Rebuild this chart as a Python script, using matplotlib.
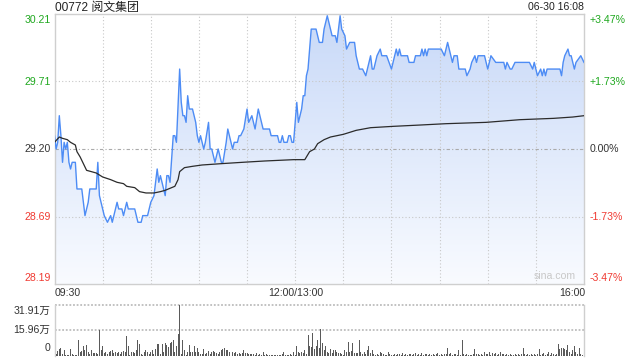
import matplotlib
matplotlib.use('Agg')
import matplotlib.pyplot as plt
import numpy as np
from matplotlib.colors import LinearSegmentedColormap

# ---------------- data ----------------
title = '00772 阅文集团'
stamp = '06-30 16:08'
watermark = 'sina.com'
prev_close = 29.20
price_labels = ['30.21', '29.71', '29.20', '28.69', '28.19']
price_levels = [30.21, 29.71, 29.20, 28.69, 28.19]
pct_labels = ['+3.47%', '+1.73%', '0.00%', '-1.73%', '-3.47%']
time_labels = ['09:30', '12:00/13:00', '16:00']
vol_labels = ['31.91万', '15.96万', '0']
vol_levels = [31.91, 15.96, 0]

# minute index (0 = 09:30, 150 = 12:00/13:00, 330 = 16:00)
price_min = [0, 1, 2, 3, 4, 5, 6, 7, 8, 9, 10, 11, 13, 14, 17, 19, 21, 22, 26, 27,
             28, 29, 30, 31, 33, 35, 36, 38, 39, 40, 42, 43, 45, 46, 50, 52, 54, 55, 58, 60,
             62, 63, 64, 65, 66, 67, 69, 70, 71, 72, 74, 75, 76, 78, 79, 80, 81, 82, 83, 84,
             86, 87, 88, 89, 90, 91, 92, 93, 94, 96, 97, 98, 100, 102, 104, 105, 107, 108, 109, 111,
             112, 114, 115, 116, 118, 120, 121, 123, 125, 127, 129, 130, 134, 135, 139, 140, 141, 142, 143, 145,
             146, 147, 148, 149,
             150, 151, 152, 154, 155, 156, 157, 158, 159, 160, 163, 165, 167, 168, 170, 172, 173, 175, 176, 177,
             178, 179, 181, 182, 184, 187, 188, 189, 190, 192, 194, 195, 197, 198, 199, 201, 203, 204, 207, 210,
             213, 214, 215, 216, 220, 221, 224, 225, 228, 229, 230, 231, 232, 233, 241, 243, 244, 245, 248, 249,
             251, 252, 256, 257, 259, 260, 262, 263, 264, 268, 269, 270, 272, 275, 280, 281, 282, 284, 285, 287,
             296, 298, 299, 300, 301, 303, 304, 305, 306, 307, 315, 316, 317, 318, 320, 321, 322, 324, 325, 328,
             330]
price_val = [29.30, 29.20, 29.25, 29.45, 29.30, 29.10, 29.25, 29.20, 29.25, 29.10, 29.05, 29.10, 29.10, 28.90, 28.90, 28.70, 28.80, 28.90, 28.90, 29.10,
             28.85, 28.80, 28.75, 28.70, 28.65, 28.70, 28.65, 28.75, 28.80, 28.75, 28.75, 28.70, 28.80, 28.75, 28.75, 28.65, 28.65, 28.70, 28.70, 28.80,
             28.85, 28.95, 29.05, 28.95, 29.00, 28.95, 28.85, 29.00, 29.00, 28.95, 29.30, 29.30, 29.25, 29.80, 29.55, 29.45, 29.45, 29.40, 29.60, 29.50,
             29.50, 29.45, 29.40, 29.30, 29.25, 29.30, 29.25, 29.20, 29.25, 29.40, 29.20, 29.20, 29.10, 29.20, 29.10, 29.10, 29.25, 29.35, 29.30, 29.20,
             29.25, 29.25, 29.30, 29.30, 29.35, 29.50, 29.40, 29.45, 29.35, 29.50, 29.40, 29.35, 29.35, 29.30, 29.30, 29.25, 29.25, 29.30, 29.25, 29.25,
             29.30, 29.30, 29.25, 29.25,
             29.40, 29.55, 29.40, 29.50, 29.60, 29.60, 29.75, 29.80, 29.95, 30.10, 30.10, 30.00, 30.00, 30.10, 30.20, 30.10, 30.05, 30.05, 30.00, 30.10,
             30.20, 30.10, 30.05, 29.95, 30.00, 30.00, 29.90, 29.85, 29.80, 29.80, 29.75, 29.80, 29.90, 29.80, 29.80, 29.90, 29.95, 29.90, 29.90, 29.80,
             29.95, 29.90, 29.95, 29.90, 29.90, 29.85, 29.85, 29.90, 29.90, 29.95, 29.90, 29.95, 29.90, 29.95, 29.95, 29.90, 29.95, 30.00, 29.85, 29.90,
             29.90, 29.80, 29.80, 29.75, 29.80, 29.85, 29.90, 29.85, 29.90, 29.90, 29.85, 29.80, 29.90, 29.85, 29.85, 29.80, 29.85, 29.80, 29.80, 29.85,
             29.85, 29.80, 29.85, 29.80, 29.75, 29.80, 29.75, 29.80, 29.75, 29.80, 29.80, 29.75, 29.85, 29.90, 29.95, 29.90, 29.90, 29.80, 29.85, 29.90,
             29.85]

avg_min = [0, 3, 5, 8, 10, 13, 14, 16, 18, 20, 23, 26, 30, 35, 39, 43, 45, 50, 53, 57,
           62, 66, 69, 75, 77, 78, 81, 86, 92, 104, 117, 131, 149, 156, 159, 162, 164, 168, 172, 180,
           188, 197, 211, 228, 244, 269, 290, 311, 323, 330]
avg_val = [29.25, 29.29, 29.28, 29.27, 29.25, 29.23, 29.18, 29.14, 29.09, 29.04, 29.03, 29.02, 28.99, 28.97, 28.95, 28.94, 28.92, 28.91, 28.88, 28.87,
           28.87, 28.88, 28.89, 28.92, 28.97, 29.03, 29.06, 29.07, 29.08, 29.09, 29.10, 29.11, 29.12, 29.12, 29.18, 29.20, 29.24, 29.27, 29.29, 29.31,
           29.34, 29.36, 29.37, 29.38, 29.39, 29.40, 29.42, 29.43, 29.44, 29.45]

# volume per minute (万股), minute 0..330
volume = [
    6.4, 1.2, 2.8, 4.3, 4.9, 1.0, 3.2, 0.6, 0.5, 0.4, 3.8, 1.0, 0.4, 0.6, 0.5, 9.6, 2.0, 2.8, 5.7, 3.2,
    6.4, 2.0, 0.8, 3.2, 1.5, 1.5, 1.5, 1.0, 16.4, 3.6, 5.7, 1.5, 2.5, 0.8, 2.5, 2.8, 3.2, 1.6, 2.0, 1.5,
    2.0, 0.8, 2.0, 2.8, 2.5, 12.1, 5.7, 0.6, 2.5, 2.0, 1.6, 3.2, 9.6, 7.4, 1.0, 0.5, 2.0, 3.6, 2.0, 0.8,
    2.5, 3.2, 1.0, 4.3, 7.0, 7.4, 1.0, 7.4, 2.0, 8.1, 6.4, 5.3, 7.9, 8.5, 9.6, 2.0, 5.7, 13.8, 31.91, 0.8,
    10.0, 3.2, 0.6, 2.5, 6.4, 2.0, 2.0, 5.7, 2.0, 4.9, 2.0, 1.0, 0.8, 4.3, 1.0, 1.5, 2.8, 0.8, 2.0, 2.8,
    2.0, 1.5, 0.8, 2.0, 3.2, 4.3, 4.9, 3.6, 3.2, 2.5, 1.0, 2.5, 1.5, 2.1, 1.2, 1.5, 1.0, 1.5, 3.2, 1.5,
    1.5, 0.8, 1.0, 0.8, 1.0, 0.6, 1.5, 0.6, 0.8, 0.6, 2.1, 0.5, 1.0, 0.6, 0.4, 0.6, 0.4, 0.6, 0.6, 0.6,
    0.6, 0.6, 1.0, 2.5, 0.6, 0.6, 0.6, 1.0, 0.6, 2.1, 0.6, 5.7, 2.1, 1.6, 2.5, 1.5, 3.6, 1.0, 12.8, 5.7,
    5.3, 14.3, 4.3, 5.7, 10.0, 4.7, 17.0, 7.9, 3.6, 5.7, 2.1, 1.5, 4.3, 1.5, 3.2, 3.6, 2.1, 1.5, 1.5, 1.0,
    0.6, 3.2, 2.1, 8.5, 2.1, 2.8, 7.9, 1.5, 1.5, 1.5, 10.0, 2.1, 1.0, 2.1, 1.0, 3.6, 5.7, 1.5, 3.2, 1.0,
    0.6, 1.0, 0.6, 2.1, 1.5, 1.0, 0.6, 0.6, 2.5, 1.0, 0.6, 0.6, 1.0, 0.6, 1.0, 1.0, 0.6, 1.5, 0.6, 1.0,
    0.6, 1.0, 0.8, 0.6, 1.0, 1.5, 0.6, 0.8, 0.6, 1.5, 0.6, 0.8, 1.0, 0.6, 0.8, 0.6, 0.8, 0.6, 1.0, 1.5,
    0.6, 0.8, 0.6, 1.0, 0.8, 4.9, 1.0, 1.5, 0.6, 0.8, 1.0, 0.6, 3.6, 0.6, 9.6, 1.0, 0.6, 0.8, 0.6, 0.4,
    0.6, 0.8, 4.3, 0.8, 1.0, 0.6, 0.8, 0.6, 2.5, 0.8, 1.0, 2.1, 0.6, 1.5, 0.8, 1.5, 0.6, 0.8, 2.5, 1.0,
    1.0, 0.6, 0.8, 0.6, 0.8, 0.6, 0.6, 0.8, 0.6, 0.8, 0.6, 0.8, 4.9, 1.0, 0.6, 0.8, 0.6, 0.8, 0.6, 0.8,
    0.6, 1.0, 4.3, 0.6, 1.0, 1.5, 0.6, 1.0, 2.5, 0.6, 1.5, 1.0, 0.6, 1.0, 7.0, 4.3, 4.7, 4.9, 4.3, 3.6,
    6.4, 2.1, 1.0, 3.6, 5.7, 2.1, 1.0, 4.9, 1.0, 0.6, 13.8]

# ---------------- style ----------------
FONT = ['Liberation Sans', 'Noto Sans CJK SC', 'DejaVu Sans']
plt.rcParams['font.family'] = FONT
GREEN = '#1fa81f'
RED = '#f03a32'
DARK = '#333333'
GRID = '#c8c8c8'
BORDER = '#cfcfcf'

W, H = 640, 360
fig = plt.figure(figsize=(6.4, 3.6), dpi=100)
fig.patch.set_facecolor('white')

def fx(px):
    return px / W

def fy(py):
    return 1 - py / H

L, R = 54.5, 584.0
ax = fig.add_axes([fx(L), fy(284), fx(R) - fx(L), fy(14) - fy(284)])
axv = fig.add_axes([fx(L), fy(355.5), fx(R) - fx(L), fy(305) - fy(355.5)])

ylo = prev_close * (1 - 0.0347)
yhi = prev_close * (1 + 0.0347)
ax.set_xlim(0, 330)
ax.set_ylim(ylo, yhi)

# gradient fill below the price line
poly = ax.fill_between(price_min, price_val, ylo, facecolor='none', edgecolor='none')
cmap = LinearSegmentedColormap.from_list('g', ['#f9fbff', '#c8d9f8'])
grad = np.linspace(1, 0, 256).reshape(-1, 1)
im = ax.imshow(grad, extent=[0, 330, ylo, yhi], aspect='auto', cmap=cmap,
               origin='upper', zorder=1, interpolation='bilinear')
im.set_clip_path(poly.get_paths()[0], transform=ax.transData)

# grid
for m in range(30, 330, 30):
    ax.axvline(m, color=GRID, lw=0.8, ls=(0, (1, 2)), zorder=2)
for lv in price_levels[1:-1]:
    if abs(lv - prev_close) < 1e-6:
        ax.axhline(lv, color='#aaaaaa', lw=0.8, ls=(0, (3, 2, 1, 2)), zorder=2)
    else:
        ax.axhline(lv, color=GRID, lw=0.8, ls=(0, (1, 2)), zorder=2)

ax.plot(price_min, price_val, color='#4d8cf5', lw=1.0, zorder=4)
ax.plot(avg_min, avg_val, color='#2b2b2b', lw=0.9, zorder=5)

ax.set_xticks([])
ax.set_yticks([])
for s in ax.spines.values():
    s.set_color(BORDER)
    s.set_linewidth(1.0)

ax.text(0.985, 0.012, watermark, transform=ax.transAxes, ha='right', va='bottom',
        fontsize=7.6, color='#c8c8c8', zorder=6)

# volume panel
axv.set_xlim(0, 330)
axv.set_ylim(0, 31.91)
axv.bar(np.arange(len(volume)), volume, width=0.62, color='#5a5a5a', zorder=3)
for lv in vol_levels[:2]:
    axv.axhline(lv, color='#bdbdbd', lw=1.3, ls=(0, (1, 1)), zorder=2, clip_on=False)
axv.set_xticks([])
axv.set_yticks([])
for k, s in axv.spines.items():
    if k in ('left', 'right'):
        s.set_color(BORDER)
        s.set_linewidth(1.0)
    else:
        s.set_visible(False)

# ---------------- texts ----------------
fs = 7.6
fig.text(fx(55), fy(7.5), title, ha='left', va='center', fontsize=8.6, color='#222222')
fig.text(fx(584), fy(7.5), stamp, ha='right', va='center', fontsize=fs, color='#222222')

label_y = [20, 82.3, 149, 217, 278]
pcol = [GREEN, GREEN, DARK, RED, RED]
for lab, pct, yy, c in zip(price_labels, pct_labels, label_y, pcol):
    fig.text(fx(50.5), fy(yy), lab, ha='right', va='center', fontsize=fs, color=c)
    fig.text(fx(590), fy(yy), pct, ha='left', va='center', fontsize=fs, color=c)

fig.text(fx(55), fy(293), time_labels[0], ha='left', va='center', fontsize=fs, color=DARK)
fig.text(fx(295.5), fy(293), time_labels[1], ha='center', va='center', fontsize=fs, color=DARK)
fig.text(fx(585), fy(293), time_labels[2], ha='right', va='center', fontsize=fs, color=DARK)

vol_y = [311, 330, 348]
for lab, yy in zip(vol_labels, vol_y):
    fig.text(fx(50.5), fy(yy), lab, ha='right', va='center', fontsize=fs, color=DARK)

fig.savefig('out.png', dpi=100, facecolor='white')
